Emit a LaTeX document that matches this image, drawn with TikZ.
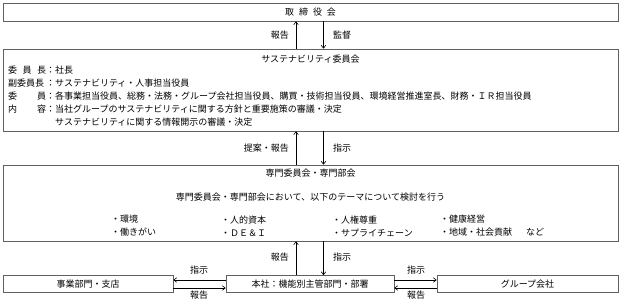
\documentclass[tikz,border=0pt]{standalone}
\usepackage{fontspec}
\setmainfont{Noto Sans CJK JP}
\usetikzlibrary{arrows.meta,positioning}

\newcommand{\spread}[1]{\makebox[38pt][s]{#1}}

\begin{document}
\begin{tikzpicture}[
    x=1pt, y=-1pt,
    font=\fontsize{9}{13}\selectfont,
    box/.style={rectangle, draw=gray!75!black, line width=0.8pt, inner sep=0pt},
    txt/.style={inner sep=0pt},
    flow/.style={-{To[length=3.5pt,width=5pt]}, line width=0.6pt}
]
    \useasboundingbox (0,0) rectangle (620,300);

    % Board
    \node[box, minimum width=615pt, minimum height=18pt] (board) at (310.5,12) {取\hspace{5pt}締\hspace{5pt}役\hspace{5pt}会};

    % Sustainability committee
    \node[box, minimum width=615pt, minimum height=82pt] (committee) at (310.5,90) {};
    \node[txt] (committee_title) at (310.5,59) {サステナビリティ委員会};
    \node[txt, anchor=north west, align=left] (committee_body) at (8,66) {%
        \spread{委\hfill 員\hfill 長}：社長\\
        \spread{副委員長}：サステナビリティ・人事担当役員\\
        \spread{委\hfill 員}：各事業担当役員、総務・法務・グループ会社担当役員、購買・技術担当役員、環境経営推進室長、財務・ＩＲ担当役員\\
        \spread{内\hfill 容}：当社グループのサステナビリティに関する方針と重要施策の審議・決定\\
        \phantom{\spread{内}：}サステナビリティに関する情報開示の審議・決定};

    % Expert committees
    \node[box, minimum width=615pt, minimum height=76pt] (experts) at (310.5,203) {};
    \node[txt] (experts_title) at (310.5,173) {専門委員会・専門部会};
    \node[txt] (experts_intro) at (310.5,197) {専門委員会・専門部会において、以下のテーマについて検討を行う};
    \node[txt, anchor=west, align=left] (theme_a) at (111,226) {・環境\\・働きがい};
    \node[txt, anchor=west, align=left] (theme_b) at (221,226) {・人的資本\\・ＤＥ＆Ｉ};
    \node[txt, anchor=west, align=left] (theme_c) at (332,226) {・人権尊重\\・サプライチェーン};
    \node[txt, anchor=west, align=left] (theme_d) at (440,226) {・健康経営\\・地域・社会貢献\hspace{14pt}など};

    % Bottom row
    \node[box, minimum width=170pt, minimum height=17pt] (branch) at (88,284) {事業部門・支店};
    \node[box, minimum width=168pt, minimum height=17pt] (hq) at (310,284) {本社：機能別主管部門・部署};
    \node[box, minimum width=181pt, minimum height=17pt] (group) at (527.5,284) {グループ会社};

    % Labels
    \node[txt, anchor=east] (lbl_report1) at (289,35) {報告};
    \node[txt, anchor=west] (lbl_audit) at (333,35) {監督};
    \node[txt, anchor=east] (lbl_propose) at (289,148) {提案・報告};
    \node[txt, anchor=west] (lbl_order1) at (333,148) {指示};
    \node[txt, anchor=east] (lbl_report2) at (289,257) {報告};
    \node[txt, anchor=west] (lbl_order2) at (333,257) {指示};
    \node[txt] (lbl_order3) at (199,270) {指示};
    \node[txt] (lbl_report3) at (199,295) {報告};
    \node[txt] (lbl_order4) at (416,270) {指示};
    \node[txt] (lbl_report4) at (416,295) {報告};

    % Connections
    \draw[flow] ([xshift=-14.5pt]committee.north) -- ([xshift=-14.5pt]board.south);
    \draw[flow] ([xshift=13pt]board.south) -- ([xshift=13pt]committee.north);
    \draw[flow] ([xshift=-14.5pt]experts.north) -- ([xshift=-14.5pt]committee.south);
    \draw[flow] ([xshift=13pt]committee.south) -- ([xshift=13pt]experts.north);
    \draw[flow] ([xshift=-14pt]hq.north) -- ([xshift=-14.5pt]experts.south);
    \draw[flow] ([xshift=13pt]experts.south) -- ([xshift=13.5pt]hq.north);
    \draw[flow] ([yshift=4pt]hq.west) -- ([yshift=4pt]branch.east);
    \draw[flow] ([yshift=-4pt]branch.east) -- ([yshift=-4pt]hq.west);
    \draw[flow] ([yshift=4pt]hq.east) -- ([yshift=4pt]group.west);
    \draw[flow] ([yshift=-4pt]group.west) -- ([yshift=-4pt]hq.east);
\end{tikzpicture}
\end{document}
